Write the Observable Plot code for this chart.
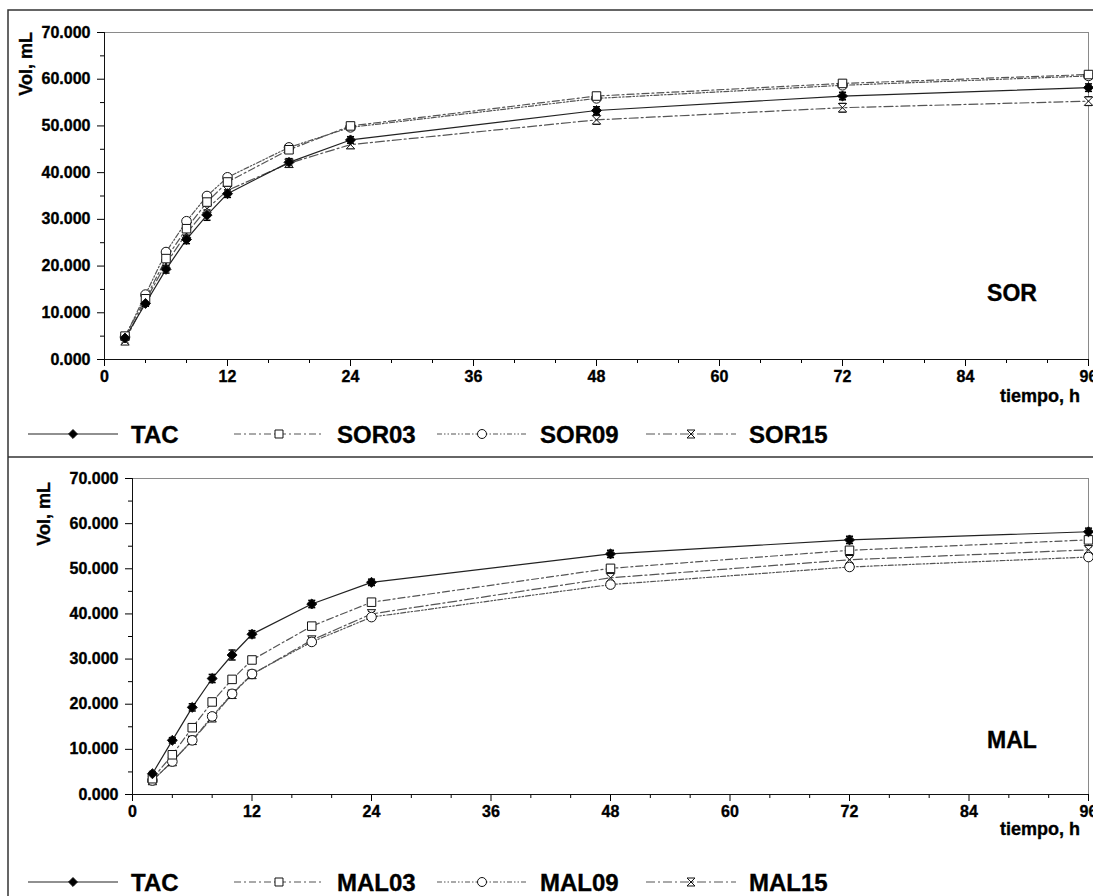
<!DOCTYPE html>
<html><head><meta charset="utf-8">
<script src="https://cdn.jsdelivr.net/npm/d3@7"></script>
<script src="https://cdn.jsdelivr.net/npm/@observablehq/plot@0.6"></script>
<style>
body{margin:0;background:#fff;}
#page{position:relative;width:1093px;height:896px;overflow:hidden;background:#fff;font-family:"Liberation Sans",Arial,sans-serif;}
#top,#bottom{position:absolute;left:0;}
#top{top:0}
#bottom{top:457px}
#overlay{position:absolute;left:0;top:0;pointer-events:none}
#page svg text{stroke:currentColor;stroke-width:0.35px;}
#overlay text{stroke:#000;stroke-width:0.6px;}
</style></head><body>
<div id="page"><div id="top"></div><div id="bottom"></div><svg id="overlay" width="1093" height="896"></svg></div>
<script>
// ---- data ----
const hours = [2, 4, 6, 8, 10, 12, 18, 24, 48, 72, 96];
const TAC   = [4.6, 12.0, 19.3, 25.7, 30.9, 35.5, 42.2, 47.0, 53.3, 56.4, 58.2];
const SOR03 = [5.0, 13.0, 21.6, 28.0, 33.7, 38.0, 44.9, 50.0, 56.4, 59.1, 61.0];
const SOR09 = [4.8, 13.9, 23.0, 29.6, 35.0, 39.0, 45.4, 49.7, 55.9, 58.7, 60.7];
const SOR15 = [4.0, 12.6, 20.5, 27.0, 32.3, 36.2, 42.0, 46.0, 51.3, 53.9, 55.3];
const MAL03 = [3.5, 8.8, 14.8, 20.5, 25.5, 29.8, 37.3, 42.6, 50.1, 54.1, 56.4];
const MAL09 = [3.1, 7.3, 12.0, 17.3, 22.3, 26.7, 33.8, 39.3, 46.5, 50.4, 52.6];
const MAL15 = [3.1, 7.3, 12.0, 17.0, 22.2, 26.6, 34.2, 40.0, 48.0, 52.0, 54.2];
const TAC_err   = [0.5, 0.6, 0.8, 0.9, 1.1, 0.8, 0.8, 0.7, 0.8, 0.8, 0.8];
const SOR03_err = [0.4, 0.5, 0.6, 0.6, 0.7, 0.6, 0.6, 0.6, 0.6, 0.6, 0.6];
const SOR09_err = [0.4, 0.5, 0.6, 0.6, 0.6, 0.6, 0.6, 0.6, 0.6, 0.6, 0.6];
const SOR15_err = [0.5, 0.6, 0.7, 0.8, 0.9, 0.8, 0.7, 0.8, 0.9, 0.9, 0.9];
const MAL03_err = [0.4, 0.5, 0.5, 0.5, 0.5, 0.5, 0.6, 0.6, 0.6, 0.6, 0.6];
const MAL09_err = [0.5, 0.6, 0.6, 0.6, 0.7, 0.7, 0.6, 0.6, 0.7, 0.7, 0.7];
const MAL15_err = [0.5, 0.6, 0.6, 0.6, 0.7, 0.7, 0.6, 0.6, 0.7, 0.7, 0.7];
const sorNames = ["TAC", "SOR03", "SOR09", "SOR15"];
const malNames = ["TAC", "MAL03", "MAL09", "MAL15"];
const yTicks = [0, 10, 20, 30, 40, 50, 60, 70];
const xTicks = [0, 12, 24, 36, 48, 60, 72, 84, 96];

// ---- styles ----
const hourglass = {draw(ctx, size) { const r = Math.sqrt(size) / 2; ctx.moveTo(-r, -r); ctx.lineTo(r, -r); ctx.lineTo(-r, r); ctx.lineTo(r, r); ctx.closePath(); }};
const capSym = {draw(ctx, size) { const r = Math.sqrt(size) / 2; ctx.moveTo(-r, 0); ctx.lineTo(r, 0); }};
const styles = [
  {dash: null, symbol: "diamond2", d3sym: d3.symbolDiamond2, fill: "#000", line: "#222"},
  {dash: "7,3,2,3", symbol: "square", d3sym: d3.symbolSquare, fill: "#fff", line: "#555"},
  {dash: "5,2,1.5,2,1.5,2", symbol: "circle", d3sym: d3.symbolCircle, fill: "#fff", line: "#555"},
  {dash: "9,3,2,3", symbol: hourglass, d3sym: hourglass, fill: "#fff", line: "#555"}
];
const FONT = '"Liberation Sans", Arial, sans-serif';

function chart(names, values, errs, opts) {
  const marks = [
    Plot.frame({stroke: "#8a8a8a"}),
    Plot.axisX({ticks: xTicks, tickSize: 7, tickPadding: 4, tickFormat: d => String(d), label: null, fontSize: 16, fontWeight: "bold"}),
    Plot.axisX({ticks: d3.range(0, 97, 4).filter(d => d % 12), tickSize: 4, tickFormat: () => "", label: null}),
    Plot.axisY({ticks: yTicks, tickSize: 7, tickPadding: 7, tickFormat: d3.format(".3f"), label: null, fontSize: 16, fontWeight: "bold"}),
    Plot.axisY({ticks: yTicks.slice(0, -1).map(d => d + 5), tickSize: 4, tickFormat: () => "", label: null}),
    Plot.ruleX([0], {stroke: "#111"}),
    Plot.ruleY([0], {stroke: "#111"})
  ];
  const order = [3, 2, 1, 0];
  for (const i of order) {
    const data = hours.map((h, j) => ({h, v: values[i][j], e: errs[i][j]}));
    const s = styles[i];
    marks.push(Plot.line(data, {x: "h", y: "v", stroke: s.line, strokeWidth: 1.2, strokeDasharray: s.dash || undefined}));
  }
  for (const i of order) {
    const data = hours.map((h, j) => ({h, v: values[i][j], e: errs[i][j]}));
    marks.push(Plot.ruleX(data, {x: "h", y1: d => d.v - d.e, y2: d => d.v + d.e, stroke: "#000", strokeWidth: 1.3}));
    marks.push(Plot.dot(data, {x: "h", y: d => d.v - d.e, symbol: capSym, r: 4, stroke: "#000", strokeWidth: 1.5}));
    marks.push(Plot.dot(data, {x: "h", y: d => d.v + d.e, symbol: capSym, r: 4, stroke: "#000", strokeWidth: 1.5}));
  }
  for (const i of order) {
    const data = hours.map((h, j) => ({h, v: values[i][j]}));
    const s = styles[i];
    marks.push(Plot.dot(data, {x: "h", y: "v", symbol: s.symbol, r: i === 0 ? 4.5 : 4.8, fill: s.fill, stroke: "#111", strokeWidth: 1}));
  }
  return Plot.plot({
    width: 1093, height: opts.height,
    marginLeft: opts.marginLeft, marginRight: 5, marginTop: opts.marginTop, marginBottom: opts.marginBottom,
    x: {domain: [0, 96]}, y: {domain: [0, 70]},
    style: {fontFamily: FONT, fontSize: "16px", color: "#000", background: "transparent", overflow: "visible"},
    marks
  });
}

document.getElementById("top").append(chart(sorNames, [TAC, SOR03, SOR09, SOR15], [TAC_err, SOR03_err, SOR09_err, SOR15_err],
  {height: 457, marginLeft: 104, marginTop: 32, marginBottom: 98}));
document.getElementById("bottom").append(chart(malNames, [TAC, MAL03, MAL09, MAL15], [TAC_err, MAL03_err, MAL09_err, MAL15_err],
  {height: 439, marginLeft: 132, marginTop: 21, marginBottom: 102}));

// ---- overlay: frame, titles, legends ----
const svg = d3.select("#overlay").attr("font-family", FONT).attr("font-weight", "bold");
svg.append("path").attr("d", "M8,896V10H1093").attr("fill", "none").attr("stroke", "#333").attr("stroke-width", 1.5);
svg.append("path").attr("d", "M8,457H1093").attr("fill", "none").attr("stroke", "#333").attr("stroke-width", 1.5);

function panelText(yLabelX, yLabelTop, tiempoBase, panelName, panelBase) {
  svg.append("text").attr("transform", `translate(${yLabelX},${yLabelTop}) rotate(-90)`).attr("text-anchor", "end")
    .attr("font-size", 18).text("Vol, mL");
  svg.append("text").attr("x", 1080).attr("y", tiempoBase).attr("text-anchor", "end").attr("font-size", 18).text("tiempo, h");
  svg.append("text").attr("x", 1012).attr("y", panelBase).attr("text-anchor", "middle").attr("font-size", 23).text(panelName);
}
panelText(32, 32, 402, "SOR", 301);
panelText(50, 482, 835, "MAL", 748);

function legend(names, cy) {
  const starts = [28, 234, 437, 646];
  names.forEach((name, i) => {
    const s = styles[i];
    const x0 = starts[i], x1 = x0 + 90, xm = (x0 + x1) / 2;
    const g = svg.append("g");
    g.append("line").attr("x1", x0).attr("x2", x1).attr("y1", cy).attr("y2", cy)
      .attr("stroke", s.line).attr("stroke-width", 1.2).attr("stroke-dasharray", s.dash);
    g.append("path").attr("transform", `translate(${xm},${cy})`)
      .attr("d", d3.symbol(s.d3sym, Math.PI * (i === 0 ? 4 : 4.5) ** 2)())
      .attr("fill", s.fill).attr("stroke", "#111").attr("stroke-width", 1);
    g.append("text").attr("x", x0 + 103).attr("y", cy + 9).attr("font-size", 24).text(name);
  });
}
legend(sorNames, 434);
legend(malNames, 882);
</script>
</body></html>
